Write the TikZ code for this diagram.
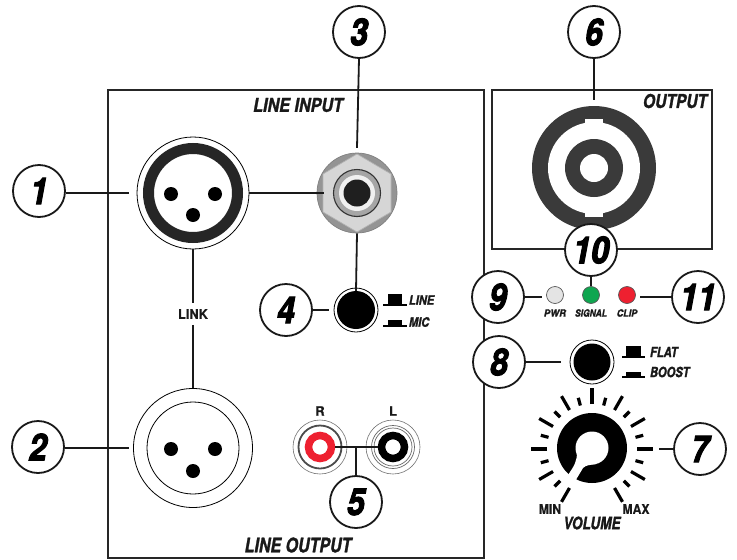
\documentclass[tikz,border=0pt]{standalone}
\usepackage{fontspec}
\usepackage{graphicx}
\setmainfont{Liberation Sans}
\newfontfamily\heavyfam[BoldItalicFeatures={FakeBold=1.6}]{TeX Gyre Heros}
\newfontfamily\numfam[BoldItalicFeatures={FakeBold=3}]{TeX Gyre Heros}
\newfontfamily\boldfam[BoldFeatures={FakeBold=0.3}]{TeX Gyre Heros}
\newcommand{\heavy}{\heavyfam\bfseries\itshape}
\newcommand{\plainbold}{\boldfam\bfseries}
\definecolor{ringdark}{HTML}{3A3A3A}
\definecolor{ledred}{HTML}{EE2030}
\definecolor{ledgreen}{HTML}{0FA650}
\definecolor{ledgray}{HTML}{E4E4E4}
\newcommand{\numtxt}[2][.86]{\scalebox{#1}[1]{\numfam\bfseries\itshape\fontsize{37}{37}\selectfont #2}}
\newcommand{\lab}[3]{\scalebox{#1}[1]{\heavy\fontsize{#2}{#2}\selectfont #3}}
\newcommand{\blab}[3]{\scalebox{#1}[1]{\plainbold\fontsize{#2}{#2}\selectfont #3}}
\tikzset{
  numc/.style={circle,draw=black!90,line width=1.8pt,fill=white,minimum size=52pt,inner sep=0pt},
  conn/.style={line width=1.8pt,black!90},
  box/.style={draw=black!85,line width=1.8pt},
  txt/.style={inner sep=0pt,outer sep=0pt,text=black!90},
  pin/.style={circle,fill=black,minimum size=14pt,inner sep=0pt},
  anch/.style={circle,inner sep=0pt,draw=none},
  led/.style={circle,draw=black!65,line width=.7pt,minimum size=17pt,inner sep=0pt},
  hat/.style={fill=black,draw=none},
  tick/.style={line width=3.2pt,black},
}
\begin{document}
\begin{tikzpicture}[x=1pt,y=-1pt]
\useasboundingbox (0,0) rectangle (737,560);
% boxes
\draw[box] (108,90) rectangle (484,558);
\draw[box] (492,90) rectangle (712,249);
% anchors for connector ends
\node[anch,minimum size=128pt] (xlrA) at (193,193) {};
\node[anch,minimum size=128pt] (xlrB) at (193,448) {};
\node[anch,minimum size=90pt] (jackend) at (357,193) {};
\node[anch,minimum size=66pt] (jackin) at (357,193) {};
\node[anch,minimum size=54pt] (btnA) at (356,310) {};
\node[anch,minimum size=62pt] (btnB) at (592,362) {};
\node[anch,minimum size=136pt] (spk) at (594,168) {};
\coordinate (hubRCA) at (356,447);
\coordinate (tickend) at (659,449);
% numbered circles
\node[numc] (n1) at (39,191) {\numtxt{1}};
\node[numc] (n2) at (38,447) {\numtxt{2}};
\node[numc] (n3) at (359,32) {\numtxt{3}};
\node[numc] (n4) at (286,310) {\numtxt{4}};
\node[numc] (n5) at (356,502) {\numtxt{5}};
\node[numc] (n6) at (594,32) {\numtxt{6}};
\node[numc] (n7) at (700,449) {\numtxt{7}};
\node[numc] (n8) at (499,362) {\numtxt{8}};
\node[numc] (n9) at (498,297) {\numtxt{9}};
\node[numc] (n11) at (698,297) {\numtxt[.88]{11}};
% XLR 1
\node[circle,draw=black,line width=.8pt,fill=white,minimum size=112pt,inner sep=0pt] (xlr1) at (193,193) {};
\node[circle,draw=black!85,line width=11pt,fill=white,minimum size=89pt,inner sep=0pt] (xlr1r) at (193,193) {};
\node[pin] (p1a) at (171,194) {};
\node[pin] (p1b) at (215,194) {};
\node[pin] (p1c) at (193,215) {};
% XLR 2
\node[circle,draw=black,line width=.8pt,fill=white,minimum size=119pt,inner sep=0pt] (xlr2) at (193,448) {};
\node[circle,draw=black,line width=.8pt,fill=white,minimum size=92pt,inner sep=0pt] (xlr2r) at (193,448) {};
\node[pin] (p2a) at (171,449) {};
\node[pin] (p2b) at (215,449) {};
\node[pin] (p2c) at (193,471) {};
% link label
\node[txt,outer sep=6pt] (link) at (193,314) {\blab{.95}{13.5}{LINK}};
% jack
\node[circle,draw=black!50,line width=.7pt,fill=black!42,minimum size=80pt,inner sep=0pt] (jack) at (357,193) {};
\draw[black!30,line width=.7pt,fill=black!16] (357,154) -- (391,174) -- (391,212) -- (357,232) -- (323,212) -- (323,174) -- cycle;
\node[circle,draw=black!80,line width=1.1pt,fill=black!35,minimum size=47pt,inner sep=0pt] (jring) at (357,193) {};
\node[circle,fill=black!6,minimum size=36pt,inner sep=0pt] (jring2) at (357,193) {};
\node[circle,fill=black!88,minimum size=27pt,inner sep=0pt] (jhole) at (357,193) {};
% button 4
\node[circle,draw=black,line width=.8pt,fill=white,minimum size=44pt,inner sep=0pt] (b4o) at (356,310) {};
\node[circle,fill=black,minimum size=38pt,inner sep=0pt] (b4) at (356,310) {};
\fill[hat] (383,303.5) rectangle (407,305.5);
\fill[hat] (388,294) rectangle (402,304);
\fill[hat] (383,325) rectangle (407,327);
\fill[hat] (388,320) rectangle (402,326);
\node[txt,anchor=west] (tline) at (409,300) {\lab{.85}{13}{LINE}};
\node[txt,anchor=west] (tmic) at (409,322) {\lab{.85}{13}{MIC}};
% RCA
\node[circle,draw=black!55,line width=.6pt,fill=white,minimum size=54pt,inner sep=0pt] (rcaR) at (320,447) {};
\node[circle,draw=black!70,line width=1.8pt,fill=white,minimum size=43pt,inner sep=0pt] (rcaR2) at (320,447) {};
\node[circle,draw=ledred,line width=7.5pt,fill=white,minimum size=23pt,inner sep=0pt] (rcaR3) at (320,447) {};
\node[circle,draw=black!55,line width=.6pt,fill=white,minimum size=54pt,inner sep=0pt] (rcaL) at (393,447) {};
\node[circle,draw=black!60,line width=.7pt,minimum size=43pt,inner sep=0pt] (rcaL2) at (393,447) {};
\node[circle,draw=black!60,line width=.7pt,minimum size=38pt,inner sep=0pt] (rcaL3) at (393,447) {};
\node[circle,draw=black,line width=7.5pt,fill=white,minimum size=23pt,inner sep=0pt] (rcaL4) at (393,447) {};
\node[txt] (tR) at (320,411) {\blab{1}{13}{R}};
\node[txt] (tL) at (393,411) {\blab{1}{13}{L}};
% speaker connector
\fill[ringdark] (594,168) circle (62);
\fill[white] (594,168) circle (46);
\fill[white] (585,119) rectangle (603,217);
\fill[ringdark] (594,168) circle (29);
\fill[white] (594,168) circle (14);
% circle 10 above output
\node[numc] (n10) at (591,250) {\numtxt[.88]{10}};
% LEDs
\node[led,fill=ledgray] (pwr) at (555,295) {};
\node[led,fill=ledgreen] (sig) at (591,295) {};
\node[led,fill=ledred] (clip) at (627,295) {};
\node[anch,minimum size=26pt] (pwrA) at (555,297) {};
\node[anch,minimum size=26pt] (clipA) at (627,297) {};
\node[txt] (tpwr) at (555,313) {\lab{.95}{10}{PWR}};
\node[txt] (tsig) at (591,313) {\lab{.85}{10}{SIGNAL}};
\node[txt] (tclip) at (627,313) {\lab{.9}{10}{CLIP}};
% button 8
\node[circle,draw=black,line width=.8pt,fill=white,minimum size=44pt,inner sep=0pt] (b8o) at (592,362) {};
\node[circle,fill=black,minimum size=37pt,inner sep=0pt] (b8) at (592,362) {};
\fill[hat] (622,355.5) rectangle (645,357.5);
\fill[hat] (626,346) rectangle (641,356);
\fill[hat] (622,376) rectangle (645,378);
\fill[hat] (626,372) rectangle (641,377);
\node[txt,anchor=west] (tflat) at (650,352) {\lab{.8}{14}{FLAT}};
\node[txt,anchor=west] (tboost) at (650,372) {\lab{.8}{14}{BOOST}};
% volume ticks
\foreach \a in {-60,-30,0,30,60,90,120,150,180,210,240}
  \draw[tick] (592,449) ++({45*cos(\a)},{-45*sin(\a)}) -- ++({16*cos(\a)},{-16*sin(\a)});
\foreach \a in {-45,-15,15,45,75,105,135,165,195,225}
  \draw[tick] (592,449) ++({45*cos(\a)},{-45*sin(\a)}) -- ++({8*cos(\a)},{-8*sin(\a)});
% knob
\fill[black] (592,448) circle (35);
\fill[white] (592,448) circle (16.5);
\fill[white] (577,452) .. controls (577,462) and (574,466) .. (568,475) -- (574,483) -- (583,468) .. controls (586,465) and (590,465) .. (596,464) -- (592,448) -- cycle;
\node[txt] (tmin) at (550,509) {\blab{.9}{13.5}{MIN}};
\node[txt] (tmax) at (636,509) {\blab{.9}{13.5}{MAX}};
\node[txt] (tvol) at (592,523) {\lab{.8}{17}{VOLUME}};
% titles
\node[txt] (tli) at (298,105) {\lab{.85}{19}{LINE INPUT}};
\node[txt] (tlo) at (298,545) {\lab{.8}{20}{LINE OUTPUT}};
\node[txt] (tout) at (675,101) {\lab{.82}{19}{OUTPUT}};
% connectors
\draw[conn] (n1.east |- xlrA.west) -- (xlrA.west);
\draw[conn] (n2.east |- xlrB.west) -- (xlrB.west);
\draw[conn] (n3.south) -- (jackend.north);
\draw[conn] (xlr1.east) -- (jackin.west);
\draw[conn] (jack.south) -- (b4.north);
\draw[conn] (n4) -- (btnA);
\draw[conn] (xlr1.south) -- (link.north);
\draw[conn] (link.south) -- (xlr2.north);
\draw[conn] (n5.north) -- (hubRCA);
\draw[conn] (rcaR3.east) -- (rcaL4.west);
\draw[conn] (n6.south) -- (spk.north);
\draw[conn] (n7) -- (tickend);
\draw[conn] (n8) -- (btnB);
\draw[conn] (n9.east) -- (pwrA.west);
\draw[conn] (n10.south) -- (sig.north);
\draw[conn] (n11.west) -- (clipA.east);
\end{tikzpicture}
\end{document}
